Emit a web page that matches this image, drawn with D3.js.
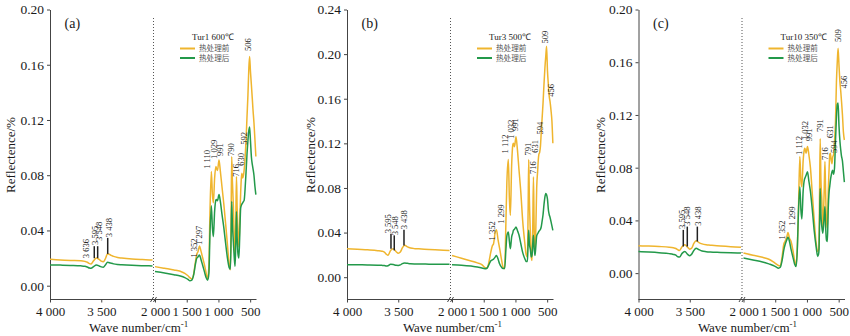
<!DOCTYPE html>
<html><head><meta charset="utf-8">
<script src="https://cdn.jsdelivr.net/npm/d3@7"></script>
<style>body{margin:0;background:#fff} svg{display:block}</style>
</head><body>
<svg id="chart" width="850" height="336"></svg>
<script>
// ---------------- data ----------------
const wnLeft = [4000, 3900, 3800, 3700, 3660, 3636, 3615, 3600, 3575, 3548, 3520, 3500, 3480, 3460, 3438, 3410, 3380, 3340, 3300, 3200, 3100, 3000];
const wnRight = [2000, 1850, 1700, 1600, 1530, 1480, 1450, 1420, 1390, 1365, 1345, 1320, 1299, 1275, 1250, 1220, 1195, 1170, 1150, 1135, 1112, 1095, 1080, 1060, 1040, 1032, 1015, 991, 970, 945, 915, 885, 855, 830, 812, 800, 791, 780, 765, 750, 738, 727, 716, 705, 692, 678, 665, 650, 640, 631, 618, 605, 594, 580, 565, 550, 535, 522, 509, 495, 480, 467, 456, 440, 425, 410];

const seriesNames = ["热处理前", "热处理后"];
const panelLabels = ["(a)", "(b)", "(c)"];
const sampleNames = ["Tur1 600℃", "Tur3 500℃", "Tur10 350℃"];
const yDomains = [[-0.01, 0.20], [-0.02, 0.24], [-0.02, 0.20]];
const yTicksA = [0, 0.04, 0.08, 0.12, 0.16, 0.20];
const yTicksB = [0, 0.04, 0.08, 0.12, 0.16, 0.20, 0.24];
const yTicksC = [0, 0.04, 0.08, 0.12, 0.16, 0.20];
const xTicksLeft = [4000, 3500];
const xTicksRight = [2000, 1500, 1000, 500];

// (a) Tur1 600℃
const aBeforeL = [0.0191, 0.0186, 0.0183, 0.0181, 0.0176, 0.0170, 0.0160, 0.0157, 0.0180, 0.0201, 0.0190, 0.0178, 0.0174, 0.0195, 0.0232, 0.0222, 0.0212, 0.0204, 0.0200, 0.0193, 0.0189, 0.0186];
const aAfterL  = [0.0150, 0.0149, 0.0147, 0.0144, 0.0141, 0.0135, 0.0128, 0.0126, 0.0138, 0.0150, 0.0143, 0.0136, 0.0133, 0.0150, 0.0170, 0.0164, 0.0158, 0.0154, 0.0152, 0.0148, 0.0145, 0.0143];
const aBeforeR = [0.0138, 0.0126, 0.0114, 0.0104, 0.0090, 0.0072, 0.0058, 0.0048, 0.0085, 0.0165,
  0.0222, 0.0250, 0.0288, 0.0250, 0.0205, 0.0150, 0.0095, 0.0050, 0.0150, 0.0500,
  0.0827, 0.0660, 0.0600, 0.0780, 0.0863, 0.0850, 0.0835, 0.0910, 0.0830, 0.0720,
  0.0590, 0.0440, 0.0280, 0.0150, 0.0115, 0.0500, 0.0935, 0.0760, 0.0580, 0.0330,
  0.0210, 0.0450, 0.0790, 0.0560, 0.0380, 0.0280, 0.0450, 0.0670, 0.0770, 0.0815,
  0.0780, 0.0800, 0.0840, 0.0920, 0.1050, 0.1220, 0.1380, 0.1560, 0.1660, 0.1550,
  0.1450, 0.1360, 0.1280, 0.1180, 0.1060, 0.0935];
const aAfterR  = [0.0102, 0.0092, 0.0080, 0.0070, 0.0058, 0.0045, 0.0035, 0.0040, 0.0080, 0.0150,
  0.0195, 0.0210, 0.0222, 0.0190, 0.0150, 0.0100, 0.0060, 0.0040, 0.0090, 0.0350,
  0.0578, 0.0420, 0.0355, 0.0540, 0.0620, 0.0625, 0.0615, 0.0660, 0.0610, 0.0520,
  0.0420, 0.0300, 0.0190, 0.0130, 0.0120, 0.0350, 0.0610, 0.0450, 0.0320, 0.0200,
  0.0140, 0.0300, 0.0537, 0.0350, 0.0230, 0.0200, 0.0350, 0.0560, 0.0580, 0.0590,
  0.0600, 0.0610, 0.0620, 0.0700, 0.0820, 0.0950, 0.1050, 0.1120, 0.1150, 0.1050,
  0.0930, 0.0880, 0.0850, 0.0800, 0.0720, 0.0660];
const aPeakLabels = [
  {t: "3 636", at: 3649, v: 0.0199}, {t: "3 595", at: 3561, v: 0.0295}, {t: "3 548", at: 3522, v: 0.0324}, {t: "3 438", at: 3424, v: 0.0351},
  {t: "1 352", at: 1381, v: 0.0204}, {t: "1 297", at: 1302, v: 0.0295}, {t: "1 110", at: 1185, v: 0.0846}, {t: "1 029", at: 1065, v: 0.0918},
  {t: "991", at: 976, v: 0.0940}, {t: "790", at: 807, v: 0.0940}, {t: "716", at: 728, v: 0.0788}, {t: "630", at: 649, v: 0.0868},
  {t: "592", at: 593, v: 0.1020}, {t: "506", at: 530, v: 0.1700}];
const aMarkLines = [{at: 3568, v0: 0.0199, v1: 0.0286}, {at: 3535, v0: 0.0199, v1: 0.0286}, {at: 3437, v0: 0.0230, v1: 0.0346}];

// (b) Tur3 500℃
const bBeforeL = [0.0256, 0.0250, 0.0245, 0.0238, 0.0233, 0.0225, 0.0205, 0.0197, 0.0240, 0.0255, 0.0228, 0.0214, 0.0225, 0.0262, 0.0286, 0.0272, 0.0262, 0.0256, 0.0254, 0.0248, 0.0243, 0.0240];
const bAfterL  = [0.0112, 0.0111, 0.0110, 0.0108, 0.0106, 0.0104, 0.0100, 0.0103, 0.0115, 0.0113, 0.0106, 0.0105, 0.0110, 0.0122, 0.0127, 0.0124, 0.0121, 0.0119, 0.0118, 0.0117, 0.0116, 0.0115];
const bBeforeR = [0.0195, 0.0170, 0.0145, 0.0128, 0.0112, 0.0085, 0.0080, 0.0130, 0.0220, 0.0280,
  0.0300, 0.0400, 0.0426, 0.0340, 0.0260, 0.0160, 0.0090, 0.0075, 0.0500, 0.0850,
  0.1055, 0.0700, 0.0555, 0.1000, 0.1190, 0.1200, 0.1170, 0.1260, 0.1150, 0.0970,
  0.0760, 0.0500, 0.0320, 0.0200, 0.0180, 0.0600, 0.1055, 0.0700, 0.0400, 0.0180,
  0.0150, 0.0450, 0.0900, 0.0450, 0.0210, 0.0450, 0.0800, 0.0950, 0.1050, 0.1100,
  0.1120, 0.1180, 0.1290, 0.1420, 0.1560, 0.1730, 0.1880, 0.1980, 0.2070, 0.1850,
  0.1720, 0.1620, 0.1580, 0.1500, 0.1400, 0.1200];
const bAfterR  = [0.0112, 0.0108, 0.0100, 0.0092, 0.0082, 0.0076, 0.0080, 0.0110, 0.0145, 0.0155,
  0.0162, 0.0180, 0.0195, 0.0165, 0.0120, 0.0090, 0.0078, 0.0080, 0.0250, 0.0370,
  0.0405, 0.0320, 0.0255, 0.0360, 0.0400, 0.0420, 0.0430, 0.0450, 0.0420, 0.0380,
  0.0300, 0.0220, 0.0170, 0.0140, 0.0140, 0.0300, 0.0420, 0.0300, 0.0250, 0.0180,
  0.0200, 0.0300, 0.0375, 0.0260, 0.0195, 0.0280, 0.0370, 0.0390, 0.0400, 0.0410,
  0.0420, 0.0430, 0.0450, 0.0500, 0.0560, 0.0650, 0.0720, 0.0750, 0.0740, 0.0700,
  0.0600, 0.0560, 0.0540, 0.0500, 0.0460, 0.0420];
const bPeakLabels = [
  {t: "3 595", at: 3597, v: 0.0393}, {t: "3 548", at: 3532, v: 0.0375}, {t: "3 438", at: 3444, v: 0.0429},
  {t: "1 352", at: 1374, v: 0.0330}, {t: "1 299", at: 1228, v: 0.0480}, {t: "1 112", at: 1157, v: 0.1110}, {t: "1 032", at: 1065, v: 0.1240},
  {t: "991", at: 1007, v: 0.1310}, {t: "791", at: 807, v: 0.1090}, {t: "716", at: 719, v: 0.0925}, {t: "631", at: 684, v: 0.1115},
  {t: "594", at: 618, v: 0.1280}, {t: "509", at: 526, v: 0.2095}, {t: "456", at: 437, v: 0.1618}];
const bMarkLines = [{at: 3571, v0: 0.0255, v1: 0.0390}, {at: 3539, v0: 0.0240, v1: 0.0375}, {at: 3444, v0: 0.0285, v1: 0.0426}];

// (c) Tur10 350℃
const cBeforeL = [0.0207, 0.0205, 0.0202, 0.0197, 0.0192, 0.0187, 0.0176, 0.0172, 0.0200, 0.0215, 0.0195, 0.0182, 0.0190, 0.0225, 0.0246, 0.0232, 0.0222, 0.0215, 0.0212, 0.0205, 0.0200, 0.0197];
const cAfterL  = [0.0164, 0.0160, 0.0155, 0.0148, 0.0142, 0.0136, 0.0124, 0.0122, 0.0150, 0.0164, 0.0142, 0.0132, 0.0145, 0.0172, 0.0189, 0.0178, 0.0168, 0.0163, 0.0160, 0.0157, 0.0154, 0.0152];
const cBeforeR = [0.0152, 0.0135, 0.0120, 0.0105, 0.0085, 0.0068, 0.0058, 0.0055, 0.0130, 0.0220,
  0.0240, 0.0270, 0.0308, 0.0265, 0.0240, 0.0170, 0.0100, 0.0058, 0.0220, 0.0450,
  0.0884, 0.0700, 0.0656, 0.0850, 0.0940, 0.0947, 0.0910, 0.0960, 0.0900, 0.0800,
  0.0600, 0.0400, 0.0230, 0.0164, 0.0180, 0.0650, 0.1020, 0.0720, 0.0556, 0.0350,
  0.0450, 0.0650, 0.0846, 0.0600, 0.0400, 0.0340, 0.0600, 0.0800, 0.0900, 0.0910,
  0.0860, 0.0830, 0.0880, 0.0900, 0.1000, 0.1150, 0.1450, 0.1600, 0.1706, 0.1580,
  0.1450, 0.1380, 0.1310, 0.1200, 0.1070, 0.1010];
const cAfterR  = [0.0114, 0.0100, 0.0085, 0.0070, 0.0058, 0.0045, 0.0038, 0.0045, 0.0100, 0.0175,
  0.0215, 0.0250, 0.0272, 0.0240, 0.0180, 0.0120, 0.0070, 0.0050, 0.0200, 0.0450,
  0.0656, 0.0480, 0.0410, 0.0620, 0.0710, 0.0720, 0.0740, 0.0770, 0.0700, 0.0620,
  0.0480, 0.0320, 0.0200, 0.0126, 0.0160, 0.0400, 0.0644, 0.0450, 0.0350, 0.0303,
  0.0360, 0.0440, 0.0505, 0.0350, 0.0250, 0.0240, 0.0480, 0.0620, 0.0660, 0.0700,
  0.0740, 0.0770, 0.0780, 0.0750, 0.0800, 0.1000, 0.1180, 0.1280, 0.1290, 0.1120,
  0.1000, 0.0935, 0.0890, 0.0850, 0.0770, 0.0690];
const cPeakLabels = [
  {t: "3 595", at: 3573, v: 0.0335}, {t: "3 548", at: 3530, v: 0.0360}, {t: "3 438", at: 3422, v: 0.0360},
  {t: "1 352", at: 1398, v: 0.0255}, {t: "1 299", at: 1240, v: 0.0360}, {t: "1 112", at: 1121, v: 0.0897}, {t: "1 032", at: 1026, v: 0.1010},
  {t: "991", at: 960, v: 0.1000}, {t: "791", at: 794, v: 0.1070}, {t: "716", at: 708, v: 0.0859}, {t: "631", at: 632, v: 0.1026},
  {t: "594", at: 571, v: 0.0912}, {t: "509", at: 511, v: 0.1753}, {t: "456", at: 413, v: 0.1400}];
const cMarkLines = [{at: 3563, v0: 0.0202, v1: 0.0328}, {at: 3524, v0: 0.0202, v1: 0.0353}, {at: 3426, v0: 0.0240, v1: 0.0353}];

// ---------------- drawing ----------------
const colors = ["#EFB52E", "#23994A"];
const serif = "'Liberation Serif','Times New Roman',serif";
const panels = [
  {beforeL: aBeforeL, afterL: aAfterL, beforeR: aBeforeR, afterR: aAfterR, peaks: aPeakLabels, marks: aMarkLines, yTicks: yTicksA},
  {beforeL: bBeforeL, afterL: bAfterL, beforeR: bBeforeR, afterR: bAfterR, peaks: bPeakLabels, marks: bMarkLines, yTicks: yTicksB},
  {beforeL: cBeforeL, afterL: cAfterL, beforeR: cBeforeR, afterR: cAfterR, peaks: cPeakLabels, marks: cMarkLines, yTicks: yTicksC}
];
const layout = [{x0: 50, titleDx: 88.7, yTitleDx: -35}, {x0: 347, titleDx: 105.5, yTitleDx: -32}, {x0: 638.5, titleDx: 109, yTitleDx: -33.5}];
const plotTop = 9.5, plotBottom = 299.5, segL = 102.5, gap = 2.5, totalW = 206.5;
const axisColor = "#444", textColor = "#1a1a1a";
const fmtX = v => d3.format(",")(v).replace(",", " ");

const svg = d3.select("#chart");

panels.forEach((p, i) => {
  const L = layout[i];
  const x0 = L.x0;
  const g = svg.append("g");
  const y = d3.scaleLinear().domain(yDomains[i]).range([plotBottom, plotTop]);
  const xL = d3.scaleLinear().domain([4000, 3000]).range([x0, x0 + segL]);
  const xR = d3.scaleLinear().domain([2000, 400]).range([x0 + segL + gap, x0 + totalW]);
  const xOf = wn => wn > 2500 ? xL(wn) : xR(wn);

  // y axis
  const ya = g.append("g").attr("transform", `translate(${x0},0)`)
    .call(d3.axisLeft(y).tickValues(p.yTicks).tickFormat(d3.format(".2f")).tickSize(3).tickSizeOuter(0).tickPadding(3));
  ya.select(".domain").attr("stroke", axisColor);
  ya.selectAll(".tick line").attr("stroke", axisColor);
  ya.selectAll("text").attr("font-family", serif).attr("font-size", "13.5px").attr("fill", textColor);

  // x axes
  [[xL, xTicksLeft], [xR, xTicksRight]].forEach(([sc, tv]) => {
    const xa = g.append("g").attr("transform", `translate(0,${plotBottom})`)
      .call(d3.axisBottom(sc).tickValues(tv).tickFormat(fmtX).tickSize(3).tickSizeOuter(0).tickPadding(4));
    xa.select(".domain").remove();
    xa.selectAll(".tick line").attr("stroke", axisColor);
    xa.selectAll("text").attr("font-family", serif).attr("font-size", "13px").attr("fill", textColor);
  });
  g.append("line").attr("x1", x0).attr("x2", x0 + totalW).attr("y1", plotBottom).attr("y2", plotBottom).attr("stroke", axisColor);

  // break marker and dotted separator
  const xb = x0 + segL + 1;
  g.append("line").attr("x1", xb).attr("x2", xb).attr("y1", 18).attr("y2", plotBottom)
    .attr("stroke", "#555").attr("stroke-dasharray", "1,2").attr("stroke-width", 1);
  [-1.5, 1.5].forEach(d => {
    g.append("line").attr("x1", xb + d - 1.5).attr("y1", plotBottom + 2.5).attr("x2", xb + d + 1.5).attr("y2", plotBottom - 2.5)
      .attr("stroke", axisColor).attr("stroke-width", 1);
  });

  // curves
  const lineL = d3.line().x((d, j) => xL(wnLeft[j])).y(d => y(d)).curve(d3.curveMonotoneX);
  const lineR = d3.line().x((d, j) => xR(wnRight[j])).y(d => y(d)).curve(d3.curveMonotoneX);
  [[p.beforeL, p.beforeR, colors[0]], [p.afterL, p.afterR, colors[1]]].forEach(([sl, sr, c]) => {
    g.append("path").attr("d", lineL(sl)).attr("fill", "none").attr("stroke", c).attr("stroke-width", 1.5);
    g.append("path").attr("d", lineR(sr)).attr("fill", "none").attr("stroke", c).attr("stroke-width", 1.5);
  });

  // peak marker lines
  p.marks.forEach(m => {
    g.append("line").attr("x1", xOf(m.at)).attr("x2", xOf(m.at)).attr("y1", y(m.v0)).attr("y2", y(m.v1))
      .attr("stroke", "#222").attr("stroke-width", 1.5);
  });
  // peak labels
  p.peaks.forEach(pk => {
    g.append("text").attr("transform", `translate(${xOf(pk.at)},${y(pk.v)}) rotate(-90)`)
      .attr("dy", "0.35em").attr("font-family", serif).attr("font-size", "8.5px").attr("fill", "#222").text(pk.t);
  });

  // panel label
  g.append("text").attr("x", x0 + 14.5).attr("y", 28).attr("font-family", serif).attr("font-size", "14px")
    .attr("fill", textColor).text(panelLabels[i]);

  // legend
  g.append("text").attr("x", x0 + 142).attr("y", 39.5).attr("font-family", serif).attr("font-size", "9px")
    .attr("fill", "#222").text(sampleNames[i]);
  seriesNames.forEach((s, k) => {
    const ly = 48.5 + k * 9.5;
    g.append("line").attr("x1", x0 + 130).attr("x2", x0 + 145).attr("y1", ly).attr("y2", ly)
      .attr("stroke", colors[k]).attr("stroke-width", 2);
    g.append("text").attr("x", x0 + 149).attr("y", ly + 2.7).attr("font-family", "'Noto Sans CJK SC',sans-serif")
      .attr("font-size", "7.6px").attr("fill", "#555").text(s);
  });

  // axis titles
  g.append("text").attr("transform", `translate(${x0 + L.yTitleDx},155) rotate(-90)`).attr("text-anchor", "middle")
    .attr("font-family", serif).attr("font-size", "13px").attr("fill", textColor).text("Reflectence/%");
  const xt = g.append("text").attr("x", x0 + L.titleDx).attr("y", 331.5).attr("text-anchor", "middle")
    .attr("font-family", serif).attr("font-size", "13px").attr("fill", textColor);
  xt.append("tspan").text("Wave number/cm");
  xt.append("tspan").attr("dy", "-5").attr("font-size", "9px").text("-1");
});
</script>
</body></html>
